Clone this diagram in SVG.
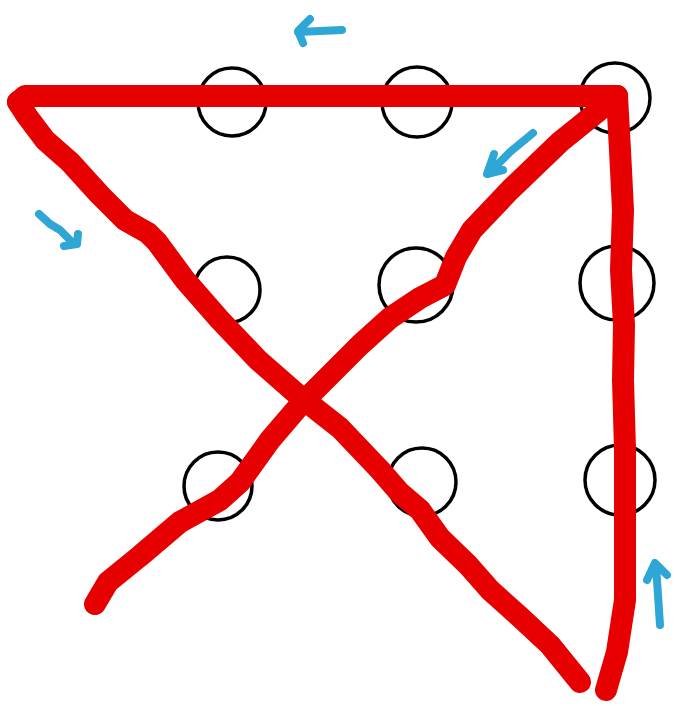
<svg xmlns="http://www.w3.org/2000/svg" width="676" height="706" viewBox="0 0 676 706">
<style>
.c{fill:none;stroke:#000;stroke-width:3.5}
.r{fill:none;stroke:#e60000;stroke-width:22;stroke-linecap:round;stroke-linejoin:round}
.b{fill:none;stroke:#2ea6d6;stroke-width:8;stroke-linecap:round;stroke-linejoin:round}
</style>
<rect width="676" height="706" fill="#fff"/>
<g id="dots">
<circle class="c" cx="232" cy="102" r="34"/>
<circle class="c" cx="417" cy="102" r="35"/>
<circle class="c" cx="615" cy="98" r="35"/>
<circle class="c" cx="227" cy="290" r="33"/>
<circle class="c" cx="416" cy="285" r="37"/>
<circle class="c" cx="617" cy="283" r="37"/>
<circle class="c" cx="218" cy="486" r="34"/>
<circle class="c" cx="422" cy="482" r="34"/>
<circle class="c" cx="620" cy="480" r="35"/>
</g>
<g id="connectors">
<path class="r" d="M18,102 L25,96 L617,96"/>
<path class="r" d="M617,96 L620,150 L623,210 L621,270 L624,325 L623,380 L625,450 L625,520 L625,600 L617,652 L606,690"/>
<path class="r" d="M18,102 L27,116 L45,140 L70,162 L100,195 L125,220 L148,233 L157,242 L185,280 L220,320 L258,360 L298,395 L340,428 L380,470 L400,493 L420,510 L440,538 L468,565 L490,590 L520,617 L550,645 L580,682"/>
<path class="r" d="M617,96 L560,142 L510,190 L472,230 L456,257 L445,285 L420,298 L390,318 L360,345 L330,375 L300,405 L270,440 L240,482 L220,500 L180,522 L140,556 L108,582 L95,604"/>
</g>
<g id="arrows">
<path class="b" d="M342,30 L298,32 M310,19 L298,31 L303,43"/>
<path class="b" d="M39,214 L50,224 L60,230 L74,244 M78,234 L77,244 L64,246"/>
<path class="b" d="M533,133 L510,152 L488,174 M494,154 L487,174 L503,170"/>
<path class="b" d="M660,625 L658,595 L656,566 M647,580 L655,563 L667,575"/>
</g>
</svg>
